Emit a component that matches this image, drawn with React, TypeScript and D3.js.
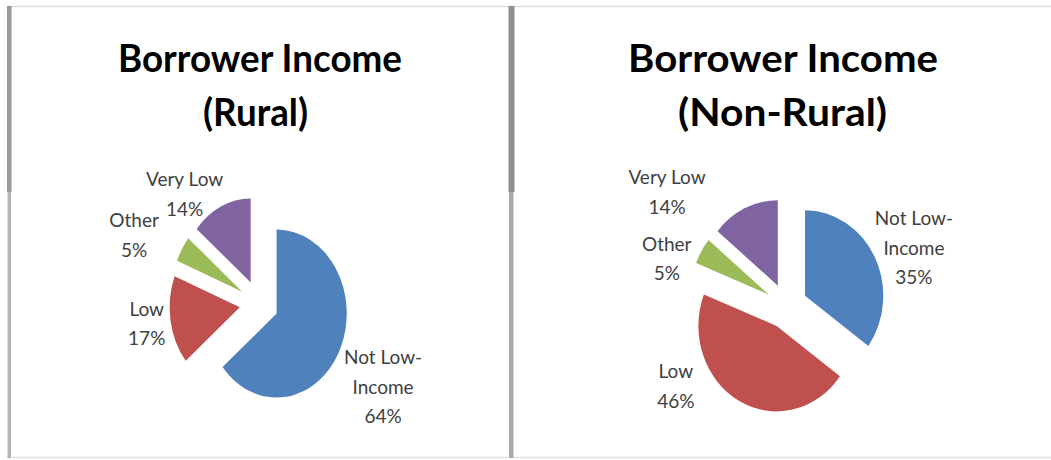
import React from 'react';
import * as d3 from 'd3';

// ---- data ----
const categories = ['Not Low-Income', 'Low', 'Other', 'Very Low'];
const labelLines = [['Not Low-', 'Income'], ['Low'], ['Other'], ['Very Low']];
const ruralValues = [64, 17, 5, 14];
const nonRuralValues = [35, 46, 5, 14];
const titleLine1 = 'Borrower Income';
const ruralTitle2 = '(Rural)';
const nonRuralTitle2 = '(Non-Rural)';
const sliceColors = ['#4F81BD', '#C0504D', '#9BBB59', '#8064A2'];

// ---- layout (styles / positions) ----
const W = 1051;
const H = 460;
const FONT = "Lato, 'Open Sans', 'DejaVu Sans', sans-serif";

type Panel = {
  values: number[];
  title2: string;
  cx: number; cy: number; r: number; sx: number; explode: number;
  titleX: number; title1W: number; title2X: number; title2W: number;
  labelLayout: [number, number][]; // [angle tweak deg, radial extension]
};

const panels: Panel[] = [
  {
    values: ruralValues, title2: ruralTitle2,
    cx: 259, cy: 303.6, r: 84, sx: 0.835, explode: 23.3,
    titleX: 260, title1W: 284, title2X: 255.5, title2W: 105,
    labelLayout: [[4.6, 62.9], [0.7, 28.6], [-7, 57.3], [-16.6, 34.8]],
  },
  {
    values: nonRuralValues, title2: nonRuralTitle2,
    cx: 786.6, cy: 306.1, r: 85.5, sx: 0.915, explode: 22.6,
    titleX: 783, title1W: 310, title2X: 782.5, title2W: 209,
    labelLayout: [[5, 42.9], [32.6, 40], [-12.7, 31.7], [-27, 67.7]],
  },
];

const pieGen = d3.pie<number>().sort(null).value((d) => d);

function PiePanel({ p }: { p: Panel }) {
  const arcs = pieGen(p.values);
  const arcGen = d3.arc<d3.PieArcDatum<number>>().innerRadius(0).outerRadius(p.r);
  const lineH = 29.5;
  const capH = 14;
  return (
    <g>
      <text x={p.titleX} y={72} textAnchor="middle" fontFamily={FONT} fontWeight="bold"
        fontSize={38} fill="#000" textLength={p.title1W} lengthAdjust="spacingAndGlyphs">{titleLine1}</text>
      <text x={p.title2X} y={126} textAnchor="middle" fontFamily={FONT} fontWeight="bold"
        fontSize={38} fill="#000" textLength={p.title2W} lengthAdjust="spacingAndGlyphs">{p.title2}</text>
      <g transform={`translate(${p.cx},${p.cy}) scale(${p.sx},1)`}>
        {arcs.map((a, i) => {
          const mid = (a.startAngle + a.endAngle) / 2;
          const dx = p.explode * Math.sin(mid);
          const dy = -p.explode * Math.cos(mid);
          return (
            <path key={categories[i]} d={arcGen(a) || ''} transform={`translate(${dx},${dy})`}
              fill={sliceColors[i]} />
          );
        })}
      </g>
      {arcs.map((a, i) => {
        const mid = (a.startAngle + a.endAngle) / 2;
        const dx = p.explode * Math.sin(mid);
        const dy = -p.explode * Math.cos(mid);
        const [tw, ext] = p.labelLayout[i];
        const th = mid + (tw * Math.PI) / 180;
        const dist = p.r + ext;
        const xc = p.cx + p.sx * (dx + dist * Math.sin(th));
        const yc = p.cy + dy - dist * Math.cos(th);
        const lines = [...labelLines[i], `${p.values[i]}%`];
        const first = yc - (capH + lineH * (lines.length - 1)) / 2 + capH;
        return (
          <text key={'l' + i} textAnchor="middle" fontFamily={FONT} fontSize={19} fill="#404040">
            {lines.map((t, j) => (
              <tspan key={j} x={xc} y={first + j * lineH}>{t}</tspan>
            ))}
          </text>
        );
      })}
    </g>
  );
}

export default function App() {
  return (
    <svg width={W} height={H} style={{ position: 'absolute', left: 0, top: 0, background: '#fff' }}>
      <rect x={0} y={0} width={W} height={H} fill="#fff" />
      {/* frame lines */}
      <line x1={7} x2={W} y1={6.5} y2={6.5} stroke="#dedede" strokeWidth={1.5} />
      <line x1={7} x2={W} y1={457.5} y2={457.5} stroke="#e2e2e2" strokeWidth={1.5} />
      <rect x={7} y={6} width={4.5} height={186} fill="#9a9a9a" />
      <rect x={7.5} y={192} width={3.5} height={266} fill="#b4b4b4" />
      <rect x={508.5} y={6} width={6} height={186} fill="#8e8e8e" />
      <rect x={509} y={192} width={4.5} height={266} fill="#a8a8a8" />
      {panels.map((p, i) => <PiePanel key={i} p={p} />)}
    </svg>
  );
}
